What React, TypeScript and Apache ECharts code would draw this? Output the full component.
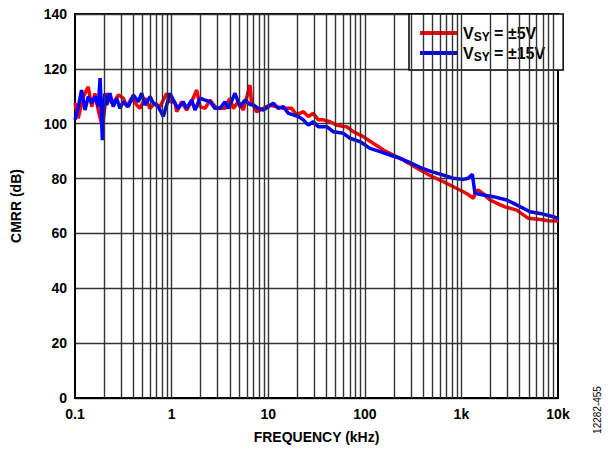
import React, { useEffect, useRef } from "react";
import * as echarts from "echarts";

// Frequency in kHz, CMRR in dB
const redFreq = [
  0.1, 0.108, 0.122, 0.137, 0.149, 0.161, 0.174, 0.19, 0.2, 0.213, 0.24, 0.26, 0.281, 0.316, 0.343, 0.386,
  0.436, 0.47, 0.531, 0.598, 0.673, 0.759, 0.889, 0.962, 1.08, 1.13, 1.27, 1.43, 1.61, 1.82, 1.97, 2.22, 2.5,
  2.81, 3.17, 3.57, 4.02, 4.36, 4.9, 5.53, 6.48, 6.7, 7.57, 8.9, 10.4, 12.2, 14.3, 17.5, 19.7, 23.1, 26,
  29.3, 33, 37.2, 43.6, 51.1, 59.9, 65, 76, 96.4, 122, 156, 197, 250, 318, 403, 512, 650, 825, 1047, 1200,
  1328, 1420, 1496, 1680, 1977, 2400, 2827, 3735, 4929, 6511, 8000, 10000,
];
const redVal = [
  107.5, 102, 109.9, 113.5, 106.2, 111, 105, 99.5, 104, 111.1, 107.5, 108.6, 110.5, 109.3, 106.2, 109.3,
  106.8, 105.6, 109.3, 105.6, 107.5, 106.2, 111.1, 108, 108, 104.4, 108, 105, 108, 112.3, 106.2, 105.6, 108.6,
  106.2, 105.6, 105.6, 109.3, 105.6, 108, 105, 114.1, 108, 104.4, 105.6, 106.8, 106.2, 105.6, 105.6, 103.2, 104.4, 102.6,
  103.8, 101.4, 101.4, 100.7, 99.5, 99, 98.9, 97.1, 95.3, 92.9, 90.4, 88.6, 86.8, 84.6, 82.5, 80.5, 78.9, 77, 75.2, 74,
  72.8, 75.5, 75.8, 74.5, 72.2, 70.8, 69.7, 68.5, 65.5, 65.1, 64.6, 64.5,
];

const blueFreq = [
  0.1, 0.108, 0.117, 0.127, 0.137, 0.149, 0.161, 0.174, 0.182, 0.192, 0.203, 0.213, 0.23, 0.249, 0.27, 0.292,
  0.316, 0.356, 0.402, 0.452, 0.49, 0.531, 0.598, 0.647, 0.728, 0.82, 0.889, 0.962, 1.08, 1.17, 1.32, 1.43,
  1.61, 1.75, 1.97, 2.22, 2.5, 2.81, 3.17, 3.57, 3.87, 4.53, 5.1, 5.75, 6.48, 7.02, 7.9, 8.9, 10.0, 11.3,
  12.7, 14.3, 16.2, 18.2, 20.5, 23.1, 26, 29.3, 33, 40.3, 47.2, 59.9, 70.3, 89.1, 113, 144, 182, 231, 294,
  373, 473, 600, 825, 1047, 1178, 1297, 1383, 1686, 2139, 2942, 3735, 5129, 6511, 8940, 10000,
];
const blueVal = [
  101.4, 106, 112.3, 105, 109.9, 107.6, 109.9, 106.2, 116.6, 94, 111, 106.8, 111.1, 106.2, 109.3, 105.6,
  108, 106.2, 110.5, 108, 111.1, 106.8, 109.9, 107.5, 106.2, 102.6, 106.8, 111.1, 107.5, 105.6, 108, 105.6,
  108.6, 105, 109.3, 108.6, 108, 105.6, 105.6, 108, 105.6, 111.1, 106.2, 108.6, 107, 106.8, 105.6, 105, 106.2, 107.5,
  105.6, 106.2, 103.8, 103.2, 102.6, 101.4, 99.5, 100.7, 98.9, 98.9, 97.1, 96.5, 94.7, 93.5, 91, 89.8, 88.6, 87.4, 85.8,
  84.1, 82.7, 81.6, 80.1, 79.7, 80.1, 81.6, 74.6, 74, 73.4, 72.2, 70.4, 67.9, 67.3, 66.1, 65.5,
];

const xTickLabels = ["0.1", "1", "10", "100", "1k", "10k"];
const decades = [0.1, 1, 10, 100, 1000];
const multipliers = [2, 3, 4, 5, 6, 7, 8, 9];
const seriesNames = ["VSY = ±5V", "VSY = ±15V"];

const FONT = "'Liberation Sans', Arial, Helvetica, sans-serif";

export default function App() {
  const ref = useRef<HTMLDivElement>(null);
  useEffect(() => {
    if (!ref.current) return;
    const chart = echarts.init(ref.current, undefined, { renderer: "svg" });
    const gridFreqs: number[] = [];
    decades.forEach((d) => multipliers.forEach((m) => gridFreqs.push(d * m)));
    decades.slice(1).forEach((d) => gridFreqs.push(d));

    chart.setOption({
      animation: false,
      backgroundColor: "#fff",
      grid: { left: 75, right: 50, top: 14, bottom: 52, show: true, borderColor: "#000", borderWidth: 2 },
      xAxis: {
        type: "log",
        logBase: 10,
        min: 0.1,
        max: 10000,
        splitNumber: 5,
        name: "FREQUENCY (kHz)",
        nameLocation: "middle",
        nameGap: 32,
        nameTextStyle: { fontFamily: FONT, fontWeight: "bold", fontSize: 14, color: "#000" },
        axisLine: { show: true, lineStyle: { color: "#000", width: 2 } },
        axisTick: { show: false },
        splitLine: { show: false },
        axisLabel: {
          fontFamily: FONT,
          fontWeight: "bold",
          fontSize: 14,
          color: "#000",
          margin: 9,
          formatter: (v: number) => xTickLabels[Math.round(Math.log10(v)) + 1] ?? "",
        },
      },
      yAxis: {
        type: "value",
        min: 0,
        max: 140,
        interval: 20,
        name: "CMRR (dB)",
        nameLocation: "middle",
        nameGap: 52,
        nameTextStyle: { fontFamily: FONT, fontWeight: "bold", fontSize: 14, color: "#000" },
        axisLine: { show: true, lineStyle: { color: "#000", width: 2 } },
        axisTick: { show: false },
        splitLine: { show: true, lineStyle: { color: "#333", width: 1.4 } },
        axisLabel: { fontFamily: FONT, fontWeight: "bold", fontSize: 14, color: "#000", margin: 8 },
      },
      legend: {
        data: seriesNames,
        left: 409,
        top: 14,
        orient: "vertical",
        backgroundColor: "#fff",
        borderColor: "#000",
        borderWidth: 1.5,
        borderRadius: 0,
        padding: [9, 18, 7, 11],
        itemGap: 0,
        itemWidth: 38,
        itemHeight: 4,
        icon: "rect",
        formatter: (name: string) => (name === seriesNames[0] ? "{v|V}{s|SY}{v| = ±5V}" : "{v|V}{s|SY}{v| = ±15V}"),
        textStyle: {
          fontFamily: FONT,
          fontWeight: "bold",
          fontSize: 16,
          color: "#000",
          rich: {
            v: { fontFamily: FONT, fontWeight: "bold", fontSize: 16, color: "#000", lineHeight: 18 },
            s: { fontFamily: FONT, fontWeight: "bold", fontSize: 12, color: "#000", padding: [8, 0, 0, 0], lineHeight: 18 },
          },
        },
      },
      graphic: [
        {
          type: "text",
          x: 597,
          y: 410,
          rotation: Math.PI / 2,
          style: { text: "12282-455", fontFamily: FONT, fontSize: 10, fill: "#000", align: "center", verticalAlign: "middle" },
        },
      ],
      series: [
        {
          name: "grid",
          type: "line",
          data: [],
          z: 1,
          silent: true,
          markLine: {
            silent: true,
            symbol: "none",
            label: { show: false },
            lineStyle: { color: "#333", width: 1.4, type: "solid" },
            data: gridFreqs.map((f) => ({ xAxis: f })),
          },
        },
        {
          name: seriesNames[0],
          type: "line",
          z: 3,
          symbol: "none",
          color: "#ff0000",
          lineStyle: { color: "#ff0000", width: 3.5 },
          data: redFreq.map((f, i) => [f, redVal[i]]),
        },
        {
          name: seriesNames[1],
          type: "line",
          z: 4,
          symbol: "none",
          color: "#0000ff",
          lineStyle: { color: "#0000ff", width: 3.5 },
          data: blueFreq.map((f, i) => [f, blueVal[i]]),
        },
      ],
    });
    return () => chart.dispose();
  }, []);
  return <div ref={ref} style={{ width: 608, height: 450, position: "absolute", left: 0, top: 0 }} />;
}
